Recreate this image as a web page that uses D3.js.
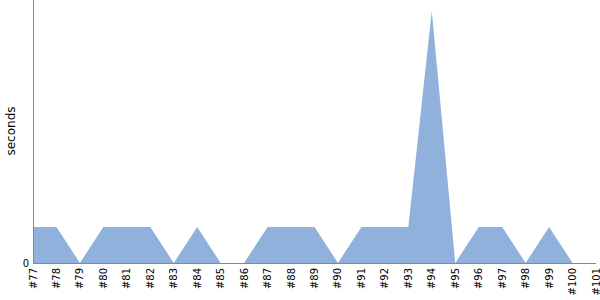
<!DOCTYPE html>
<html><head><meta charset="utf-8">
<script src="https://cdn.jsdelivr.net/npm/d3@7"></script>
<style>body{margin:0;background:#fff;}svg{display:block;font-family:"DejaVu Sans",sans-serif;}</style>
</head><body>
<svg id="c" width="600" height="300"></svg>
<script>
const categories = ["#77","#78","#79","#80","#81","#82","#83","#84","#85","#86","#87","#88","#89","#90","#91","#92","#93","#94","#95","#96","#97","#98","#99","#100","#101"];
const seconds = [1,1,0,1,1,1,0,1,0,0,1,1,1,0,1,1,1,7,0,1,1,0,1,0,0];
const yTicks = [0];

const svg = d3.select("#c");
const x = d3.scalePoint().domain(categories).range([33, 596]);
const y = d3.scaleLinear().domain([0, 7]).range([263, 11]);

const data = categories.map((c,i)=>({c, v: seconds[i]}));
svg.append("path").datum(data)
  .attr("fill", "#8fb1db")
  .attr("d", d3.area().x(d=>x(d.c)).y0(y(0)).y1(d=>y(d.v)));

// y axis
svg.append("line").attr("x1",33.5).attr("x2",33.5).attr("y1",0).attr("y2",263.5).attr("stroke","#888");
svg.append("line").attr("x1",33).attr("x2",596).attr("y1",263.5).attr("y2",263.5).attr("stroke","#888");
svg.selectAll(".yt").data(yTicks).enter().append("text")
  .attr("x",29).attr("y",d=>y(d)).attr("dy","0.35em").attr("text-anchor","end")
  .attr("font-size",10).attr("fill","#000").text(d=>d);
svg.selectAll(".xt").data(categories).enter().append("text")
  .attr("transform",d=>`translate(${x(d)+3.5},268) rotate(-90)`)
  .attr("text-anchor","end").attr("font-size",10).attr("fill","#000").text(d=>d);
svg.append("text").attr("transform","translate(15,131) rotate(-90)")
  .attr("text-anchor","middle").attr("font-size",12).attr("fill","#000").text("seconds");
</script>
</body></html>
